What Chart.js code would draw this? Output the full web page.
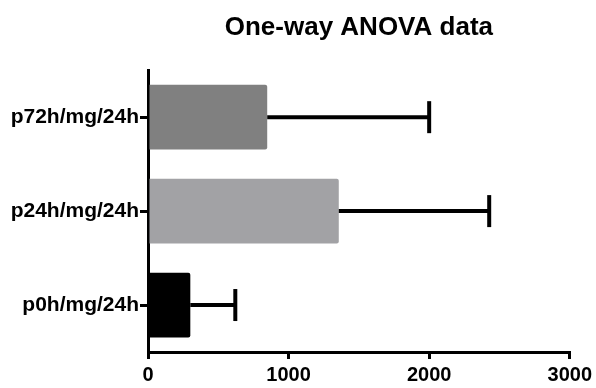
<!DOCTYPE html>
<html>
<head>
<meta charset="utf-8">
<script src="https://cdn.jsdelivr.net/npm/chart.js@4/dist/chart.umd.min.js"></script>
<style>
  body { margin: 0; background: #fff; }
  #wrap { width: 596px; height: 388px; }
</style>
</head>
<body>
<div id="wrap"><canvas id="anovaChart"></canvas></div>
<script>
const groups = ["p72h/mg/24h", "p24h/mg/24h", "p0h/mg/24h"];
const means = [848, 1357, 301];
const sds = [1152, 1070, 320];
const barColors = ["#808080", "#a2a2a5", "#000000"];
const xTicks = [0, 1000, 2000, 3000];

const fontFamily = "'Liberation Sans', Arial, sans-serif";

// error bars (mean -> mean + SD) drawn with the chart's own scales
const errorBars = {
    id: "errorBars",
    afterDatasetsDraw(chart) {
        const ctx = chart.ctx;
        const xs = chart.scales.x;
        const ys = chart.scales.y;
        ctx.save();
        ctx.strokeStyle = "#000";
        ctx.lineCap = "butt";
        means.forEach((m, i) => {
            const y = ys.getPixelForValue(i);
            const x0 = xs.getPixelForValue(m);
            const x1 = xs.getPixelForValue(m + sds[i]);
            ctx.lineWidth = 4;
            ctx.beginPath();
            ctx.moveTo(x0, y);
            ctx.lineTo(x1, y);
            ctx.stroke();
            ctx.lineWidth = 4;
            ctx.beginPath();
            ctx.moveTo(x1, y - 16);
            ctx.lineTo(x1, y + 16);
            ctx.stroke();
        });
        ctx.restore();
    }
};

new Chart(document.getElementById("anovaChart").getContext("2d"), {
    type: "bar",
    data: {
        labels: groups,
        datasets: [{
            data: means,
            backgroundColor: barColors,
            borderWidth: 0,
            borderRadius: 2,
            borderSkipped: "left",
            barPercentage: 0.69,
            categoryPercentage: 1
        }]
    },
    options: {
        indexAxis: "y",
        responsive: true,
        maintainAspectRatio: false,
        animation: false,
        layout: { padding: { left: 0, right: 26, top: 0, bottom: 0 } },
        plugins: {
            legend: { display: false },
            tooltip: { enabled: false },
            title: {
                display: true,
                text: "One-way ANOVA data",
                fullSize: false,
                color: "#000",
                font: { family: fontFamily, size: 26, weight: "bold" },
                padding: { top: 12, bottom: 27 }
            }
        },
        scales: {
            x: {
                min: 0,
                max: 3000,
                afterBuildTicks(scale) {
                    scale.ticks = xTicks.map(v => ({ value: v }));
                },
                afterFit(scale) { scale.height = 36; },
                grid: { drawOnChartArea: false, color: "#000", lineWidth: 3, tickLength: 7 },
                border: { color: "#000", width: 3 },
                ticks: {
                    color: "#000",
                    font: { family: fontFamily, size: 20, weight: "bold" },
                    padding: 4,
                    maxRotation: 0,
                    callback: v => String(v)
                }
            },
            y: {
                afterFit(scale) { scale.width = 148; },
                grid: { drawOnChartArea: false, offset: false, color: "#000", lineWidth: 3, tickLength: 8 },
                border: { color: "#000", width: 3 },
                ticks: { color: "#000", font: { family: fontFamily, size: 21, weight: "bold" }, padding: 1 }
            }
        }
    },
    plugins: [errorBars]
});
</script>
</body>
</html>
